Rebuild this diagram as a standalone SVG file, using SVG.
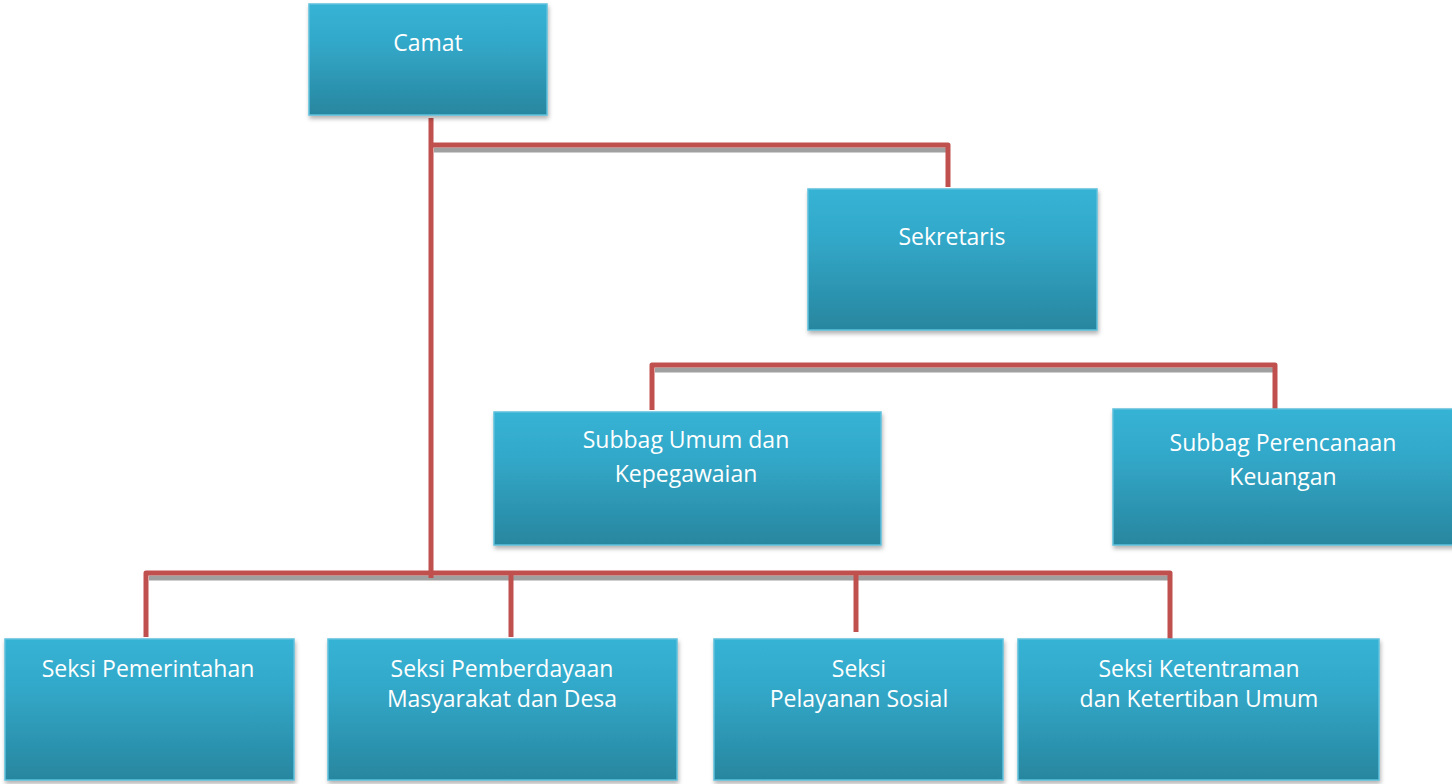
<svg xmlns="http://www.w3.org/2000/svg" width="1452" height="784" viewBox="0 0 1452 784">
<defs>
<linearGradient id="g" x1="0" y1="0" x2="0" y2="1">
<stop offset="0" stop-color="#36b3d5"/>
<stop offset="0.35" stop-color="#32a8c9"/>
<stop offset="1" stop-color="#28869f"/>
</linearGradient>
<filter id="sh" x="-5%" y="-5%" width="110%" height="115%">
<feDropShadow dx="1" dy="3" stdDeviation="2" flood-color="#000" flood-opacity="0.3"/>
</filter>
<style>
.box{fill:url(#g);stroke:#5ec0dc;stroke-width:1.5;filter:url(#sh)}
.t{font-family:"Open Sans","Noto Sans",sans-serif;font-size:23px;fill:#ffffff;text-anchor:middle}
.ln{fill:none;stroke:#c0504d;stroke-width:5;stroke-linejoin:round}
.sd{fill:none;stroke:#a0a0a0;stroke-width:5}
</style>
</defs>
<rect width="1452" height="784" fill="#ffffff"/>
<g id="connectors">
<path class="sd" d="M434,150 H946 M655,370 H1273 M149,578 H1168"/>
<path class="ln" d="M431,118 V578"/>
<path class="ln" d="M431,145 H948 V187"/>
<path class="ln" d="M652,410 V365 H1275 V409"/>
<path class="ln" d="M146,637 V573 H1170 V640"/>
<path class="ln" d="M511,573 V637"/>
<path class="ln" d="M856,573 V632"/>
</g>
<g id="camat"><rect class="box" x="309" y="4" width="238" height="111"/><text class="t" x="428" y="51">Camat</text></g>
<g id="sekretaris"><rect class="box" x="808" y="189" width="289" height="141"/><text class="t" x="952" y="245">Sekretaris</text></g>
<g id="subbag-umum"><rect class="box" x="494" y="412" width="387" height="133"/><text class="t" x="686" y="448">Subbag Umum dan</text><text class="t" x="686" y="482">Kepegawaian</text></g>
<g id="subbag-perencanaan"><rect class="box" x="1113" y="409" width="345" height="136"/><text class="t" x="1283" y="451">Subbag Perencanaan</text><text class="t" x="1283" y="485">Keuangan</text></g>
<g id="seksi-pemerintahan"><rect class="box" x="5" y="639" width="289" height="141"/><text class="t" x="148" y="677">Seksi Pemerintahan</text></g>
<g id="seksi-pemberdayaan"><rect class="box" x="328" y="639" width="349" height="141"/><text class="t" x="502" y="677">Seksi Pemberdayaan</text><text class="t" x="502" y="707">Masyarakat dan Desa</text></g>
<g id="seksi-pelayanan"><rect class="box" x="714" y="639" width="289" height="141"/><text class="t" x="859" y="677">Seksi</text><text class="t" x="859" y="707">Pelayanan Sosial</text></g>
<g id="seksi-ketentraman"><rect class="box" x="1018" y="639" width="361" height="141"/><text class="t" x="1199" y="677">Seksi Ketentraman</text><text class="t" x="1199" y="707">dan Ketertiban Umum</text></g>
</svg>
